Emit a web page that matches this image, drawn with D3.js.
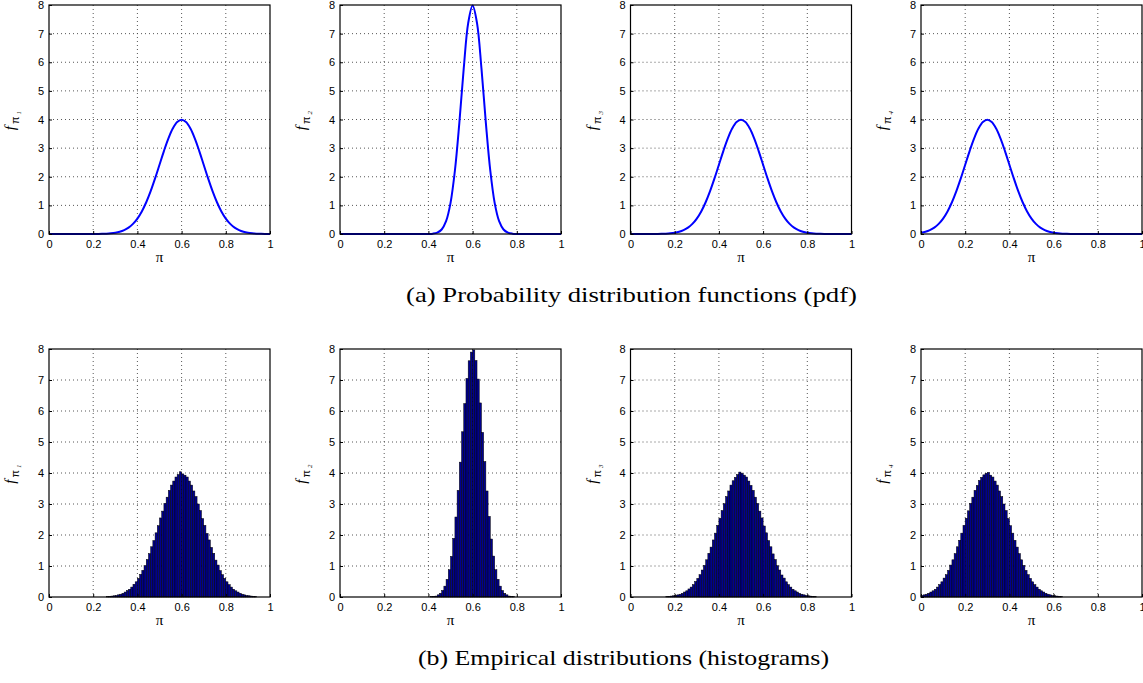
<!DOCTYPE html>
<html><head><meta charset="utf-8">
<script src="https://cdn.jsdelivr.net/npm/d3@7"></script>
<style>body{margin:0;background:#fff}svg{display:block}</style>
</head><body>
<script>
// ---- data ----
const panelIds = [1, 2, 3, 4];
const xTicks = [0, 0.2, 0.4, 0.6, 0.8, 1];
const xTickLabels = ["0", "0.2", "0.4", "0.6", "0.8", "1"];
const yTicks = [0, 1, 2, 3, 4, 5, 6, 7, 8];
const captionA = "(a)  Probability distribution functions (pdf)";
const captionB = "(b)  Empirical distributions (histograms)";

// pdf curves sampled at x = 0, 0.02, ..., 1
const pdfX = [0,0.02,0.04,0.06,0.08,0.1,0.12,0.14,0.16,0.18,0.2,0.22,0.24,0.26,0.28,0.3,0.32,0.34,0.36,0.38,0.4,0.42,0.44,0.46,0.48,0.5,0.52,0.54,0.56,0.58,0.6,0.62,0.64,0.66,0.68,0.7,0.72,0.74,0.76,0.78,0.8,0.82,0.84,0.86,0.88,0.9,0.92,0.94,0.96,0.98,1];
const pdf1 = [0,0,0,0,0,0,0,0,0,0,0.001,0.003,0.006,0.012,0.024,0.044,0.079,0.136,0.224,0.355,0.540,0.789,1.109,1.497,1.942,2.420,2.897,3.332,3.683,3.910,3.989,3.910,3.683,3.332,2.897,2.420,1.942,1.497,1.109,0.789,0.540,0.355,0.224,0.136,0.079,0.044,0.024,0.012,0.006,0.003,0.001];
const pdf2 = [0,0,0,0,0,0,0,0,0,0,0,0,0,0,0,0,0,0,0,0,0.003,0.012,0.048,0.158,0.448,1.080,2.218,3.884,5.793,7.365,7.979,7.365,5.793,3.884,2.218,1.080,0.448,0.158,0.048,0.012,0.003,0,0,0,0,0,0,0,0,0,0];
const pdf3 = [0,0,0,0,0,0.001,0.003,0.006,0.012,0.024,0.044,0.079,0.136,0.224,0.355,0.540,0.789,1.109,1.497,1.942,2.420,2.897,3.332,3.683,3.910,3.989,3.910,3.683,3.332,2.897,2.420,1.942,1.497,1.109,0.789,0.540,0.355,0.224,0.136,0.079,0.044,0.024,0.012,0.006,0.003,0.001,0,0,0,0,0];
const pdf4 = [0.044,0.079,0.136,0.224,0.355,0.540,0.789,1.109,1.497,1.942,2.420,2.897,3.332,3.683,3.910,3.989,3.910,3.683,3.332,2.897,2.420,1.942,1.497,1.109,0.789,0.540,0.355,0.224,0.136,0.079,0.044,0.024,0.012,0.006,0.003,0.001,0,0,0,0,0,0,0,0,0,0,0,0,0,0,0];

// histograms: 100 bins of width 0.01 starting at 0
const binWidth = 0.01;
const hist1 = [0,0,0,0,0,0,0,0,0,0, 0,0,0,0,0,0,0,0,0,0, 0,0,0,0,0,0,0.01,0.02,0.03,0.04,
  0.05,0.07,0.09,0.12,0.16,0.21,0.25,0.32,0.41,0.49, 0.60,0.73,0.86,1.01,1.21,1.40,1.62,1.82,2.07,2.30,
  2.55,2.77,3.02,3.22,3.44,3.61,3.74,3.87,3.95,4.04, 3.97,3.93,3.87,3.74,3.61,3.42,3.24,3.00,2.79,2.53,
  2.31,2.05,1.84,1.60,1.41,1.19,1.03,0.85,0.72,0.60, 0.49,0.40,0.32,0.25,0.20,0.16,0.12,0.09,0.07,0.05,
  0.04,0.03,0.02,0.01,0,0,0,0,0,0];
const hist2 = [0,0,0,0,0,0,0,0,0,0, 0,0,0,0,0,0,0,0,0,0, 0,0,0,0,0,0,0,0,0,0,
  0,0,0,0,0,0,0,0,0,0, 0,0.01,0.02,0.03,0.07,0.12,0.21,0.35,0.57,0.88,
  1.31,1.89,2.58,3.44,4.35,5.33,6.24,7.05,7.62,7.90, 7.97,7.63,7.03,6.26,5.31,4.37,3.42,2.60,1.87,1.32,
  0.88,0.57,0.35,0.21,0.12,0.07,0.03,0.02,0.01,0, 0,0,0,0,0,0,0,0,0,0,
  0,0,0,0,0,0,0,0,0,0];
const hist3 = [0,0,0,0,0,0,0,0,0,0, 0,0,0,0,0,0,0.01,0.02,0.03,0.04,
  0.05,0.07,0.09,0.12,0.16,0.20,0.26,0.32,0.40,0.50, 0.60,0.72,0.87,1.02,1.20,1.41,1.61,1.84,2.06,2.31,
  2.54,2.79,3.01,3.24,3.42,3.61,3.75,3.86,3.95,4.03, 3.99,3.93,3.87,3.74,3.60,3.44,3.22,3.02,2.77,2.55,
  2.29,2.07,1.82,1.62,1.39,1.21,1.01,0.87,0.71,0.61, 0.49,0.40,0.32,0.25,0.20,0.16,0.12,0.09,0.07,0.05,
  0.04,0.03,0.02,0.01,0,0,0,0,0,0, 0,0,0,0,0,0,0,0,0,0];
const hist4 = [0.05,0.07,0.09,0.12,0.16,0.20,0.25,0.32,0.40,0.49, 0.61,0.72,0.86,1.03,1.20,1.40,1.62,1.83,2.06,2.31,
  2.54,2.78,3.02,3.22,3.44,3.60,3.76,3.86,3.94,3.99, 4.02,3.93,3.87,3.74,3.61,3.42,3.24,3.00,2.79,2.53,
  2.30,2.06,1.83,1.61,1.40,1.20,1.02,0.86,0.72,0.60, 0.49,0.40,0.32,0.25,0.20,0.16,0.12,0.09,0.07,0.05,
  0.04,0.03,0.02,0.01,0,0,0,0,0,0, 0,0,0,0,0,0,0,0,0,0,
  0,0,0,0,0,0,0,0,0,0, 0,0,0,0,0,0,0,0,0,0];

const pdfSeries = [pdf1, pdf2, pdf3, pdf4];
const histSeries = [hist1, hist2, hist3, hist4];

// ---- layout ----
const W = 1143, H = 683;
const panelLeft = [49, 340, 630.5, 921];
const panelW = 221;
const rows = [{top: 5, bottom: 234}, {top: 349, bottom: 597}];
const serif = "'Liberation Serif', 'Times New Roman', Times, serif";
const sans = "'Liberation Sans', Arial, Helvetica, sans-serif";

const svg = d3.select("body").append("svg").attr("width", W).attr("height", H)
  .style("font-family", sans);

function drawPanel(rowIdx, pi) {
  const r = rows[rowIdx];
  const x = d3.scaleLinear().domain([0, 1]).range([panelLeft[pi], panelLeft[pi] + panelW]);
  const y = d3.scaleLinear().domain([0, 8]).range([r.bottom, r.top]);
  const g = svg.append("g");

  // grid
  g.append("g").selectAll("line").data(xTicks.slice(1, -1)).join("line")
    .attr("x1", d => x(d)).attr("x2", d => x(d)).attr("y1", r.top).attr("y2", r.bottom)
    .attr("stroke", "#444").attr("stroke-width", 0.9).attr("stroke-dasharray", "1,3");
  g.append("g").selectAll("line").data(yTicks.slice(1, -1)).join("line")
    .attr("y1", d => y(d)).attr("y2", d => y(d)).attr("x1", x(0)).attr("x2", x(1))
    .attr("stroke", "#444").attr("stroke-width", 0.9).attr("stroke-dasharray", "1,3");

  if (rowIdx === 0) {
    const line = d3.line().x((d, i) => x(pdfX[i])).y(d => y(d)).curve(d3.curveCatmullRom.alpha(0.5));
    g.append("path").datum(pdfSeries[pi]).attr("d", line)
      .attr("fill", "none").attr("stroke", "#0000ff").attr("stroke-width", 2);
  } else {
    g.append("g").selectAll("rect").data(histSeries[pi]).join("rect")
      .attr("x", (d, i) => x(i * binWidth))
      .attr("width", (d, i) => x((i + 1) * binWidth) - x(i * binWidth))
      .attr("y", d => y(d)).attr("height", d => y(0) - y(d))
      .attr("fill", "#00008f").attr("stroke", "#000").attr("stroke-width", 0.5);
  }

  // axes (ticks inside)
  const xAxis = d3.axisBottom(x).tickValues(xTicks).tickFormat((d, i) => xTickLabels[i]).tickSizeInner(-3).tickSizeOuter(0).tickPadding(6);
  const xa = g.append("g").attr("transform", `translate(0,${r.bottom})`).call(xAxis);
  const yAxis = d3.axisLeft(y).tickValues(yTicks).tickFormat(d3.format("d")).tickSizeInner(-3).tickSizeOuter(0).tickPadding(5);
  const ya = g.append("g").attr("transform", `translate(${x(0)},0)`).call(yAxis);
  [xa, ya].forEach(a => {
    a.select(".domain").remove();
    a.selectAll("text").attr("font-size", 11).attr("fill", "#000").attr("font-family", sans);
    a.selectAll("line").attr("stroke", "#000");
  });
  // box
  g.append("rect").attr("x", x(0)).attr("y", r.top).attr("width", x(1) - x(0)).attr("height", r.bottom - r.top)
    .attr("fill", "none").attr("stroke", "#000").attr("stroke-width", 1.2);

  // x label
  g.append("text").attr("x", (x(0) + x(1)) / 2).attr("y", r.bottom + 28)
    .attr("text-anchor", "middle").attr("font-size", 15).attr("font-family", serif).text("π");
  // y label
  const cy = y(4) + 1;
  const t = g.append("text").attr("transform", `translate(${x(0) - 34},${cy}) rotate(-90)`)
    .attr("text-anchor", "middle");
  t.append("tspan").attr("font-family", serif).attr("font-style", "italic").attr("font-size", 15).text("f");
  t.append("tspan").attr("font-family", sans).attr("font-size", 11).attr("dy", 4).attr("dx", 2).text("π");
  t.append("tspan").attr("font-family", serif).attr("font-style", "italic").attr("font-size", 7).attr("dy", 2).attr("dx", 2).text(panelIds[pi]);
}

for (let ri = 0; ri < 2; ri++) for (let pi = 0; pi < 4; pi++) drawPanel(ri, pi);

svg.append("text").attr("x", 406).attr("y", 302)
  .attr("font-family", serif).attr("font-size", 21)
  .attr("textLength", 451).attr("lengthAdjust", "spacingAndGlyphs").text(captionA);
svg.append("text").attr("x", 418).attr("y", 665)
  .attr("font-family", serif).attr("font-size", 21)
  .attr("textLength", 411).attr("lengthAdjust", "spacingAndGlyphs").text(captionB);
</script>
</body></html>
